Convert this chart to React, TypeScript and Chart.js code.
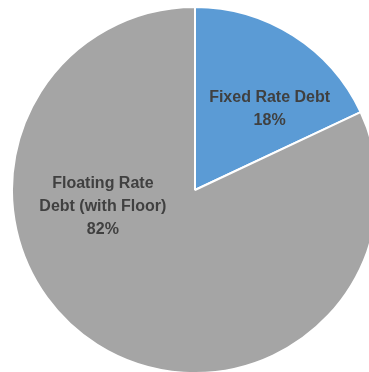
import React, { useEffect, useRef } from "react";
import { Chart, registerables } from "chart.js";

Chart.register(...registerables);

const categories: string[] = ["Fixed Rate Debt", "Floating Rate Debt (with Floor)"];
const values: number[] = [18, 82];
const labelLines: string[][] = [
  ["Fixed Rate Debt", "18%"],
  ["Floating Rate", "Debt (with Floor)", "82%"],
];
const colors: string[] = ["#5b9bd5", "#a5a5a5"];

// label anchor: angle (deg, clockwise from top) and fraction of radius
const labelAnchors = [
  { angle: 42.8, frac: 0.6 },
  { angle: 259.5, frac: 0.512 },
];

const labelPlugin = {
  id: "sliceLabels",
  afterDatasetsDraw(chart: any) {
    const meta = chart.getDatasetMeta(0);
    const ctx = chart.ctx;
    ctx.save();
    ctx.font = "bold 16px 'Liberation Sans', Arial, sans-serif";
    ctx.fillStyle = "#404040";
    ctx.textAlign = "center";
    ctx.textBaseline = "middle";
    meta.data.forEach((arc: any, i: number) => {
      const a = labelAnchors[i];
      const r = arc.outerRadius * a.frac;
      const rad = (a.angle * Math.PI) / 180;
      const cx = arc.x + r * Math.sin(rad);
      const cy = arc.y - r * Math.cos(rad);
      const lines = labelLines[i];
      const lh = 23;
      const start = cy - ((lines.length - 1) * lh) / 2;
      lines.forEach((ln, j) => ctx.fillText(ln, cx, start + j * lh));
    });
    ctx.restore();
  },
};

export default function App() {
  const ref = useRef<HTMLCanvasElement | null>(null);
  useEffect(() => {
    if (!ref.current) return;
    const chart = new Chart(ref.current, {
      type: "pie",
      data: {
        labels: categories,
        datasets: [
          {
            data: values,
            backgroundColor: colors,
            borderColor: "#ffffff",
            borderWidth: 2,
          },
        ],
      },
      options: {
        animation: false,
        responsive: true,
        maintainAspectRatio: false,
        layout: { padding: 0 },
        plugins: {
          legend: { display: false },
          tooltip: { enabled: false },
        },
      },
      plugins: [labelPlugin],
    });
    return () => chart.destroy();
  }, []);
  return (
    <div
      style={{
        position: "fixed",
        left: 0,
        top: 0,
        width: 369,
        height: 372,
        overflow: "hidden",
        background: "#ffffff",
      }}
    >
      <div style={{ position: "absolute", left: 11, top: 6, width: 368, height: 368 }}>
        <canvas ref={ref} />
      </div>
    </div>
  );
}
